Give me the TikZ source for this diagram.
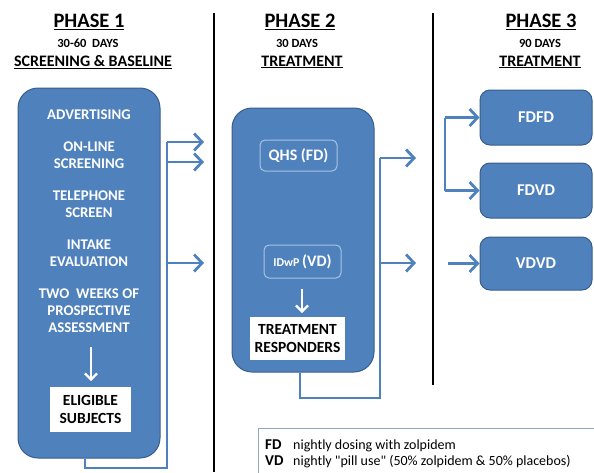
\documentclass[tikz,border=0pt]{standalone}
\usepackage{fontspec}
\setmainfont{Carlito}
\usetikzlibrary{arrows.meta}
\definecolor{boxblue}{HTML}{4F81BD}
\definecolor{boxedge}{HTML}{385D8A}
\definecolor{inneredge}{HTML}{A9C2E2}
\definecolor{legedge}{HTML}{8EA9C8}
\tikzset{
  bigbox/.style={draw=boxedge, line width=1pt, fill=boxblue, rounded corners=20pt, inner sep=0pt},
  smallbox/.style={draw=boxedge, line width=1pt, fill=boxblue, rounded corners=10pt, minimum width=112pt, minimum height=55pt, inner sep=0pt, text=white, font=\bfseries\fontsize{16.5}{19}\selectfont},
  innerbox/.style={draw=inneredge, line width=1pt, fill=boxblue, rounded corners=5pt, inner sep=0pt, text=white, font=\bfseries\fontsize{16}{19}\selectfont},
  whitebox/.style={fill=white, inner sep=0pt, text=black, align=center, font=\bfseries\fontsize{15.5}{18}\selectfont},
  intext/.style={text=white, align=center, inner sep=0pt, font=\bfseries\fontsize{14.8}{17}\selectfont},
  head/.style={inner sep=0pt, font=\bfseries\fontsize{20.5}{24}\selectfont},
  days/.style={inner sep=0pt, font=\bfseries\fontsize{12.5}{14}\selectfont},
  sub/.style={inner sep=0pt, font=\bfseries\fontsize{16}{19}\selectfont},
  conn/.style={draw=boxblue, line width=2.2pt},
  arr/.style={draw=boxblue, line width=2.8pt, -{Straight Barb[length=8pt,width=17pt,line width=2.8pt]}},
  whitearr/.style={draw=white, line width=2.2pt, -{Straight Barb[length=6pt,width=12pt,line width=2.2pt]}},
  divider/.style={draw=black, line width=1.5pt},
  legtext/.style={anchor=base west, inner sep=0pt, font=\fontsize{14}{16}\selectfont}
}
\begin{document}
\begin{tikzpicture}[x=1pt,y=-1pt]
\useasboundingbox (0,0) rectangle (594,472);

% dividers
\coordinate (d1t) at (214,13); \coordinate (d1b) at (214,472);
\coordinate (d2t) at (433,13); \coordinate (d2b) at (433,385);
\draw[divider] (d1t) -- (d1b);
\draw[divider] (d2t) -- (d2b);

% headers
\node[head] (h1) at (89,22) {\underline{PHASE 1}};
\node[days] (h1d) at (88,43) {30-60\ \ DAYS};
\node[sub] (h1s) at (93,62) {\underline{SCREENING \& BASELINE}};
\node[head] (h2) at (300,22) {\underline{PHASE 2}};
\node[days] (h2d) at (297,43) {30 DAYS};
\node[sub] (h2s) at (302,62) {\underline{TREATMENT}};
\node[head] (h3) at (541,22) {\underline{PHASE 3}};
\node[days] (h3d) at (540,43) {90 DAYS};
\node[sub] (h3s) at (540,62) {\underline{TREATMENT}};

% phase 1 box
\node[bigbox, minimum width=142pt, minimum height=370pt] (p1) at (89,273) {};
\node[intext] (t1) at (89,115) {ADVERTISING};
\node[intext] (t2) at (89,155.5) {ON-LINE\\SCREENING};
\node[intext] (t3) at (89,204.5) {TELEPHONE\\SCREEN};
\node[intext] (t4) at (89,253) {INTAKE\\EVALUATION};
\node[intext] (t5) at (89,310.5) {TWO\ \ WEEKS OF\\PROSPECTIVE\\ASSESSMENT};
\node[whitebox, minimum width=81pt, minimum height=45pt] (elig) at (90.5,409.5) {ELIGIBLE\\SUBJECTS};
\coordinate (a1s) at (91,347);
\coordinate (a1e) at (91,381);
\draw[whitearr] (a1s) -- (a1e);

% phase 1 connector
\coordinate (c1a) at (85,468);
\coordinate (c1b) at (167,468);
\coordinate (c1c) at (167,142);
\coordinate (c1d) at (167,162);
\coordinate (c1e) at (167,263);
\coordinate (e1a) at (204,142);
\coordinate (e1b) at (204,162);
\coordinate (e1c) at (204,263);
\draw[conn] (p1.south -| c1a) -- (c1a) -- (c1b) -- (c1c);
\draw[arr] (c1c) -- (e1a);
\draw[arr] (c1d) -- (e1b);
\draw[arr] (c1e) -- (e1c);

% phase 2 box
\node[bigbox, minimum width=142pt, minimum height=264pt] (p2) at (303,240) {};
\node[innerbox, minimum width=77pt, minimum height=31pt] (qhs) at (298.5,155.5) {QHS (FD)};
\node[innerbox, minimum width=77pt, minimum height=33pt] (idwp) at (302.5,261.5) {{\fontsize{12}{14}\selectfont IDwP}\,(VD)};
\node[whitebox, minimum width=95pt, minimum height=43pt] (resp) at (297.5,338.5) {TREATMENT\\RESPONDERS};
\coordinate (a2s) at (302,289);
\coordinate (a2e) at (302,313);
\draw[whitearr] (a2s) -- (a2e);

% phase 2 connector
\coordinate (c2a) at (300,398);
\coordinate (c2b) at (380,398);
\coordinate (c2c) at (380,158);
\coordinate (c2d) at (380,263);
\coordinate (e2a) at (416,158);
\coordinate (e2b) at (416,263);
\draw[conn] (p2.south -| c2a) -- (c2a) -- (c2b) -- (c2c);
\draw[arr] (c2c) -- (e2a);
\draw[arr] (c2d) -- (e2b);

% phase 3 boxes
\node[smallbox] (fdfd) at (536,117.5) {FDFD};
\node[smallbox] (fdvd) at (536,190.5) {FDVD};
\node[smallbox, minimum height=53pt] (vdvd) at (536,263.5) {VDVD};
\coordinate (c3a) at (445,117.5);
\coordinate (c3b) at (445,190.5);
\coordinate (c3c) at (448,263.5);
\draw[conn] (c3a) -- (c3b);
\draw[arr] (c3a) -- (fdfd.west);
\draw[arr] (c3b) -- (fdvd.west);
\draw[arr] (c3c) -- (vdvd.west);

% legend
\node[draw=legedge, line width=0.8pt, anchor=north west, minimum width=360pt, minimum height=60pt, inner sep=0pt] (leg) at (258,428) {};
\node[legtext] (l1) at (265,449) {\makebox[28pt][l]{\textbf{\fontsize{15}{16}\selectfont FD}}nightly dosing with zolpidem};
\node[legtext] (l2) at (265,465) {\makebox[28pt][l]{\textbf{\fontsize{15}{16}\selectfont VD}}nightly \textquotedbl pill use\textquotedbl{} (50\% zolpidem \& 50\% placebos)};
\end{tikzpicture}
\end{document}
